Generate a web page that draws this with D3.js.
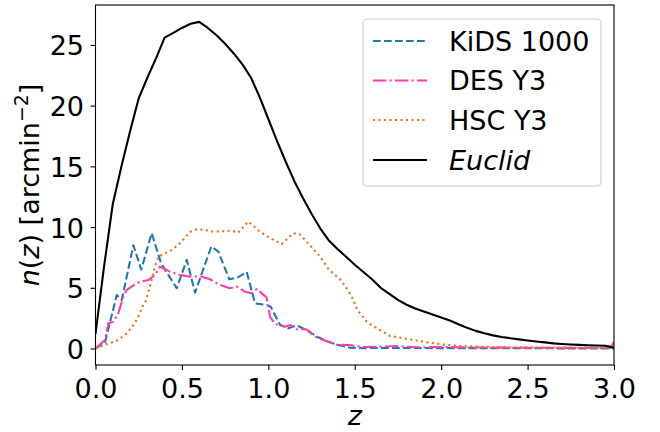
<!DOCTYPE html>
<html>
<head>
<meta charset="utf-8">
<script src="https://cdn.jsdelivr.net/npm/d3@7"></script>
<style>
  html, body { margin: 0; padding: 0; background: #fff; }
  svg { display: block; font-family: "DejaVu Sans", sans-serif; }
</style>
</head>
<body>
<div id="chart"></div>
<script>
// ---------------- data ----------------
const xTicks = [0, 0.5, 1.0, 1.5, 2.0, 2.5, 3.0];
const yTicks = [0, 5, 10, 15, 20, 25];

const zEuclid = [0, 0.05, 0.10, 0.15, 0.20, 0.25, 0.30, 0.35, 0.40, 0.45, 0.50, 0.55, 0.60, 0.65, 0.70, 0.75,
  0.80, 0.85, 0.90, 0.95, 1.00, 1.05, 1.10, 1.15, 1.20, 1.25, 1.30, 1.35, 1.40, 1.45, 1.50, 1.55, 1.60,
  1.65, 1.70, 1.75, 1.80, 1.85, 1.90, 1.95, 2.00, 2.05, 2.10, 2.15, 2.20, 2.25, 2.30, 2.35, 2.40, 2.45,
  2.50, 2.55, 2.60, 2.65, 2.70, 2.75, 2.80, 2.85, 2.90, 2.95, 3.00];
const nEuclid = [1.2, 6.8, 11.9, 15.0, 17.9, 20.6, 22.3, 23.9, 25.6, 26.0, 26.4, 26.75, 26.9, 26.4, 25.8, 25.1,
  24.3, 23.4, 22.3, 20.7, 18.9, 17.1, 15.4, 13.8, 12.4, 11.1, 9.9, 8.9, 8.2, 7.55, 6.9, 6.3, 5.7,
  5.0, 4.5, 4.0, 3.6, 3.3, 3.05, 2.8, 2.55, 2.3, 2.0, 1.7, 1.45, 1.25, 1.08, 0.95, 0.85, 0.75,
  0.66, 0.58, 0.5, 0.42, 0.37, 0.33, 0.3, 0.27, 0.25, 0.22, 0.07];

const zKids = [0, 0.055, 0.123, 0.152, 0.219, 0.265, 0.325, 0.38, 0.47, 0.528, 0.576, 0.67, 0.71, 0.774,
  0.826, 0.875, 0.923, 0.99, 1.014, 1.068, 1.116, 1.164, 1.222, 1.28, 1.347, 1.40, 1.47, 1.55, 1.7, 2.0, 2.5, 3.0];
const nKids = [0, 0.5, 4.4, 4.0, 8.5, 6.5, 9.5, 7.0, 4.96, 7.3, 4.6, 8.4, 8.0, 5.7,
  5.87, 6.3, 3.72, 3.58, 3.44, 1.94, 1.66, 1.9, 1.52, 0.97, 0.56, 0.3, 0.07, 0.03, 0.05, 0.03, 0.02, 0.0];

const zDes = [0, 0.055, 0.074, 0.103, 0.132, 0.161, 0.18, 0.219, 0.258, 0.306, 0.344, 0.373, 0.431, 0.489,
  0.547, 0.605, 0.663, 0.72, 0.778, 0.817, 0.865, 0.904, 0.933, 0.99, 1.01, 1.04, 1.058, 1.097, 1.126,
  1.164, 1.22, 1.27, 1.318, 1.347, 1.396, 1.47, 1.55, 1.63, 1.75, 1.85, 2.0, 2.2, 2.5, 2.8, 2.98, 3.0];
const nDes = [0, 0.7, 2.07, 2.2, 2.9, 4.27, 4.8, 5.2, 5.5, 5.64, 6.05, 6.74, 6.33, 6.05,
  5.92, 5.95, 5.7, 5.23, 4.96, 5.1, 4.68, 4.55, 4.9, 4.2, 2.6, 2.0, 1.94, 1.8, 1.94,
  1.58, 1.58, 0.97, 0.7, 0.56, 0.3, 0.29, 0.12, 0.15, 0.2, 0.1, 0.12, 0.08, 0.06, 0.05, 0.05, 0.55];

const zHsc = [0, 0.065, 0.123, 0.171, 0.2, 0.229, 0.25, 0.271, 0.29, 0.315, 0.344, 0.364, 0.402, 0.441,
  0.489, 0.547, 0.586, 0.634, 0.682, 0.788, 0.826, 0.884, 0.952, 1.01, 1.078, 1.145, 1.183, 1.26, 1.3,
  1.35, 1.415, 1.46, 1.492, 1.511, 1.53, 1.57, 1.589, 1.647, 1.704, 1.8, 1.897, 1.994, 2.11, 2.3, 2.6, 3.0];
const nHsc = [0, 0.37, 0.64, 1.11, 1.58, 2.13, 2.7, 3.44, 3.9, 5.1, 6.74, 7.56, 7.84, 8.1,
  8.67, 9.6, 9.82, 9.76, 9.62, 9.7, 9.54, 10.45, 9.62, 9.1, 8.6, 9.49, 9.4, 8.2, 7.56,
  6.5, 5.7, 4.82, 4.0, 3.31, 2.9, 2.2, 2.0, 1.52, 1.03, 0.8, 0.56, 0.35, 0.2, 0.12, 0.08, 0.05];

const seriesNames = ["KiDS 1000", "DES Y3", "HSC Y3", "Euclid"];

// ---------------- layout ----------------
const W = 660, H = 432;
const L = 95.5, R = 614, T = 5, B = 365;
const FS = 27;

const svg = d3.select("#chart").append("svg")
  .attr("width", W).attr("height", H).attr("viewBox", `0 0 ${W} ${H}`);

const x = d3.scaleLinear().domain([0, 3]).range([L, R]);
const y = d3.scaleLinear().domain([-1.36, 28.29]).range([B, T]);

const series = [
  { name: seriesNames[0], z: zKids, n: nKids, color: "#1f77b4", dash: "7.7,3.3", italic: false },
  { name: seriesNames[1], z: zDes, n: nDes, color: "#ff3fa8", dash: "13.3,3.3,2.1,3.3", italic: false },
  { name: seriesNames[2], z: zHsc, n: nHsc, color: "#e8741c", dash: "2.1,3.4", italic: false },
  { name: seriesNames[3], z: zEuclid, n: nEuclid, color: "#000000", dash: null, italic: true }
];

svg.append("defs").append("clipPath").attr("id", "clip")
  .append("rect").attr("x", L).attr("y", T).attr("width", R - L).attr("height", B - T);

const line = d3.line().x(d => x(d[0])).y(d => y(d[1]));
const g = svg.append("g").attr("clip-path", "url(#clip)");
series.forEach(s => {
  const pts = s.z.map((zz, i) => [zz, s.n[i]]);
  g.append("path").datum(pts)
    .attr("d", line)
    .attr("fill", "none")
    .attr("stroke", s.color)
    .attr("stroke-width", 2.1)
    .attr("stroke-linejoin", "round")
    .attr("stroke-dasharray", s.dash);
});

// axes
const xAxis = d3.axisBottom(x).tickValues(xTicks).tickFormat(d3.format(".1f")).tickSize(4.9).tickPadding(4);
const yAxis = d3.axisLeft(y).tickValues(yTicks).tickFormat(d3.format("d")).tickSize(4.9).tickPadding(4);

const gx = svg.append("g").attr("transform", `translate(0,${B})`).call(xAxis);
const gy = svg.append("g").attr("transform", `translate(${L},0)`).call(yAxis);
[gx, gy].forEach(a => {
  a.select(".domain").remove();
  a.selectAll(".tick line").attr("stroke", "#000").attr("stroke-width", 1.1);
  a.selectAll(".tick text").attr("fill", "#000").attr("font-size", FS)
    .attr("font-family", "DejaVu Sans");
});
gx.selectAll(".tick text").attr("dy", null).attr("y", 33);
gy.selectAll(".tick text").attr("dy", null).attr("x", -11.5).attr("y", 10);

// frame
svg.append("rect").attr("x", L).attr("y", T).attr("width", R - L).attr("height", B - T)
  .attr("fill", "none").attr("stroke", "#000").attr("stroke-width", 1.1);

// axis labels
svg.append("text").attr("x", (L + R) / 2).attr("y", 425).attr("text-anchor", "middle")
  .attr("font-size", FS).attr("font-style", "italic").text("z");

const yl = svg.append("text").attr("transform", `translate(38.5,${(T + B) / 2}) rotate(-90)`)
  .attr("text-anchor", "middle").attr("font-size", FS);
yl.append("tspan").attr("font-style", "italic").text("n");
yl.append("tspan").text("(");
yl.append("tspan").attr("font-style", "italic").text("z");
yl.append("tspan").text(") [arcmin");
yl.append("tspan").attr("font-size", FS * 0.7).attr("dy", -11).text("\u22122");
yl.append("tspan").attr("dy", 11).text("]");

// legend
const leg = svg.append("g");
leg.append("rect").attr("x", 363).attr("y", 19).attr("width", 238).attr("height", 167)
  .attr("rx", 4).attr("fill", "#fff").attr("fill-opacity", 0.8)
  .attr("stroke", "#cccccc").attr("stroke-width", 1.1);
const rowY = [41, 80.5, 120, 160];
series.forEach((s, i) => {
  leg.append("line").attr("x1", 373).attr("x2", 427).attr("y1", rowY[i]).attr("y2", rowY[i])
    .attr("stroke", s.color).attr("stroke-width", 2.1).attr("stroke-dasharray", s.dash);
  leg.append("text").attr("x", 449).attr("y", rowY[i] + 9.5).attr("font-size", FS)
    .attr("font-style", s.italic ? "italic" : null).text(s.name);
});
</script>
</body>
</html>
